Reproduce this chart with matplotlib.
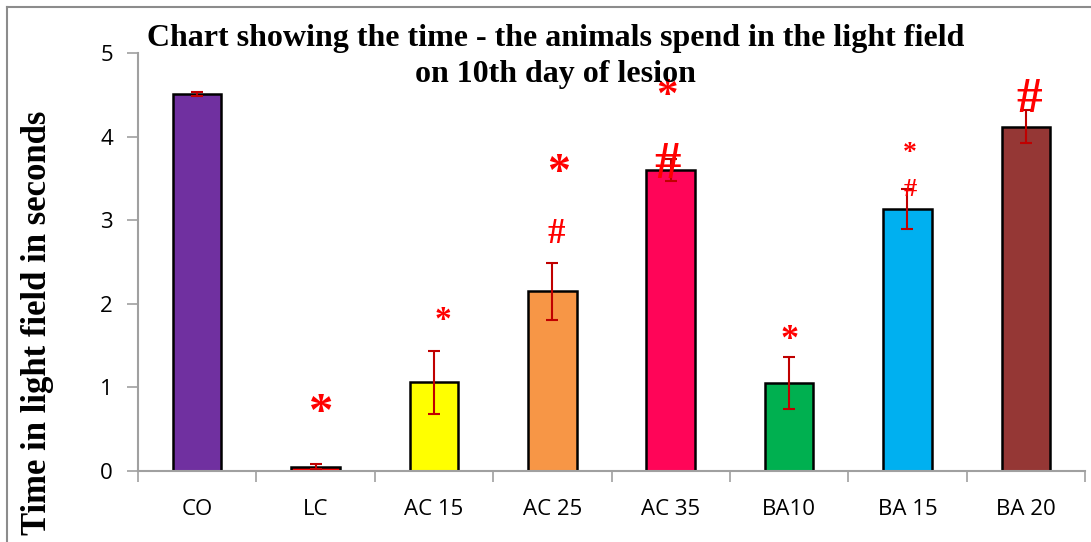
import matplotlib
matplotlib.use("Agg")
import matplotlib.pyplot as plt
from matplotlib.lines import Line2D
from matplotlib.transforms import ScaledTranslation

categories = ["CO", "LC", "AC 15", "AC 25", "AC 35", "BA10", "BA 15", "BA 20"]
values = [4.51, 0.05, 1.06, 2.15, 3.60, 1.05, 3.13, 4.12]
errors = [0.02, 0.03, 0.38, 0.34, 0.13, 0.31, 0.24, 0.20]
bar_colors = ["#7030A0", "#FF0000", "#FFFF00", "#F79646", "#FF0558",
              "#00B050", "#00B0F0", "#953735"]

# significance marks: category index, symbol, y value (centre of the mark)
mark_cat = [1, 2, 3, 3, 4, 4, 5, 6, 6, 7]
mark_sym = ["*", "*", "*", "#", "*", "#", "*", "*", "#", "#"]
mark_y = [0.83, 1.90, 3.70, 2.86, 4.61, 3.72, 1.68, 3.89, 3.39, 4.50]
mark_dx = [0.05, 0.08, 0.05, 0.03, -0.03, -0.03, 0.0, 0.02, 0.02, 0.03]
mark_size = [35, 24, 33, 25, 31, 38, 26, 20, 19, 37]

title = "Chart showing the time - the animals spend in the light field\non 10th day of lesion"
ylabel = "Time in light field in seconds"

fig = plt.figure(figsize=(10.91, 5.42), dpi=100)
ax = fig.add_axes([0.1265, 0.131, 0.868, 0.771])

x = list(range(len(categories)))
ax.bar(x, values, width=0.41, color=bar_colors, edgecolor="black", linewidth=1.8, zorder=2)
ax.errorbar(x, values, yerr=errors, fmt="none", ecolor="#C00000", elinewidth=1.5,
            capsize=4.5, capthick=1.5, zorder=3)

for c, s, yv, dx, fs in zip(mark_cat, mark_sym, mark_y, mark_dx, mark_size):
    # shift so that the ink centre of the glyph sits on (c+dx, yv)
    k = 0.50 if s == "*" else 0.33
    tr = ax.transData + ScaledTranslation(0, -k * fs / 72, fig.dpi_scale_trans)
    ax.text(c + dx, yv, s, color="#FF0000", fontsize=fs, ha="center", va="baseline",
            family="Liberation Serif", fontweight="bold", zorder=4, transform=tr)

ax.set_xlim(-0.5, len(categories) - 0.5)
ax.set_ylim(0, 5)
ax.set_yticks([0, 1, 2, 3, 4, 5])
ax.set_xticks(x)
ax.set_xticklabels(categories)
ax.set_xticks([i + 0.5 for i in range(-1, len(categories))], minor=True)
ax.tick_params(axis="x", which="major", length=0, pad=20, labelsize=16)
ax.tick_params(axis="x", which="minor", length=8, color="#A0A0A0", width=1.2)
ax.tick_params(axis="y", length=8, color="#A0A0A0", width=1.2, labelsize=16, pad=10)
for lab in ax.get_xticklabels() + ax.get_yticklabels():
    lab.set_family("Open Sans")

for side in ["top", "right"]:
    ax.spines[side].set_visible(False)
for side in ["left", "bottom"]:
    ax.spines[side].set_color("#A0A0A0")
    ax.spines[side].set_linewidth(1.5)

fig.text(0.509, 0.955, title, ha="center", va="top", fontsize=23, fontweight="bold",
         family="Liberation Serif", linespacing=1.32)
fig.text(0.034, 0.405, ylabel, rotation=90, ha="center", va="center", fontsize=25,
         fontweight="bold", family="Liberation Serif")

# outer frame (left and top edges visible)
fig.add_artist(Line2D([7 / 1091, 7 / 1091], [0, 1 - 7 / 542], transform=fig.transFigure,
                      color="#8C8C8C", linewidth=1.5))
fig.add_artist(Line2D([7 / 1091, 1], [1 - 7 / 542, 1 - 7 / 542], transform=fig.transFigure,
                      color="#8C8C8C", linewidth=1.5))

fig.savefig("out.png", dpi=100)
